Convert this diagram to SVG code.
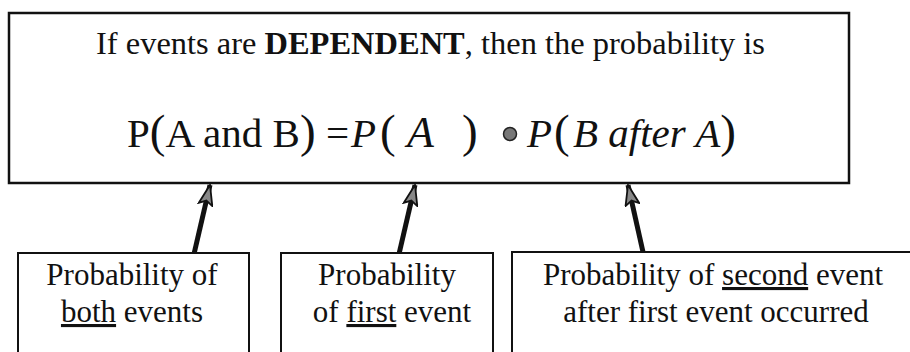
<svg xmlns="http://www.w3.org/2000/svg" width="910" height="352" viewBox="0 0 910 352">
<style>
.box{fill:#fff;stroke:#111;stroke-width:2.5}
.sbox{fill:#fff;stroke:#111;stroke-width:2}
.t{fill:#111}
.conn{stroke:#111;stroke-width:5;fill:none}
.bt{font-size:31px;text-anchor:middle}
.it{font-style:italic}
.par{font-size:47px}
</style>
<defs>
<marker id="ah" viewBox="0 0 22 16" refX="21" refY="8" markerWidth="22" markerHeight="16" orient="auto" markerUnits="userSpaceOnUse">
<path d="M1,1 L21,8 L1,15 L5,8 z" fill="#888" stroke="#111" stroke-width="1.8" stroke-linejoin="miter"/>
</marker>
</defs>
<rect width="910" height="352" fill="#fff"/>
<g id="main" font-family="'Liberation Serif', Tinos, 'Times New Roman', serif">
<rect class="box" x="9" y="13" width="840" height="170"/>
<text class="t" x="96" y="54" font-size="31" textLength="669" lengthAdjust="spacingAndGlyphs">If events are <tspan font-weight="bold">DEPENDENT</tspan>, then the probability is</text>
<text class="t" y="147" font-size="41"><tspan x="127">P</tspan><tspan class="par">(</tspan><tspan>A and B</tspan><tspan class="par">)</tspan><tspan x="326">=</tspan><tspan class="it" x="351">P</tspan><tspan class="par" x="380">(</tspan><tspan class="it" x="407" font-size="44">A</tspan><tspan class="par" x="462">)</tspan><tspan class="it" x="527">P</tspan><tspan class="par" x="554">(</tspan><tspan class="it" x="573">B after A</tspan><tspan class="par">)</tspan></text>
<circle cx="510" cy="134" r="6.5" fill="#777" stroke="#222" stroke-width="1.5"/>
</g>
<g id="connectors">
<line class="conn" x1="194" y1="254" x2="210" y2="185" marker-end="url(#ah)"/>
<line class="conn" x1="399" y1="254" x2="415" y2="185" marker-end="url(#ah)"/>
<line class="conn" x1="643" y1="252" x2="628" y2="185" marker-end="url(#ah)"/>
</g>
<g font-family="'Liberation Serif', Tinos, 'Times New Roman', serif">
<g id="both">
<rect class="sbox" x="18" y="253" width="231" height="120"/>
<text class="t bt" x="132" y="285">Probability of</text>
<text class="t bt" x="132" y="322"><tspan text-decoration="underline">both</tspan> events</text>
</g>
<g id="first">
<rect class="sbox" x="281" y="253" width="212" height="120"/>
<text class="t bt" x="387" y="285">Probability</text>
<text class="t bt" x="392" y="322">of <tspan text-decoration="underline">first</tspan> event</text>
</g>
<g id="second">
<rect class="sbox" x="512" y="252" width="420" height="120"/>
<text class="t bt" x="713" y="285">Probability of <tspan text-decoration="underline">second</tspan> event</text>
<text class="t bt" x="716" y="322">after first event occurred</text>
</g>
</g>
</svg>
